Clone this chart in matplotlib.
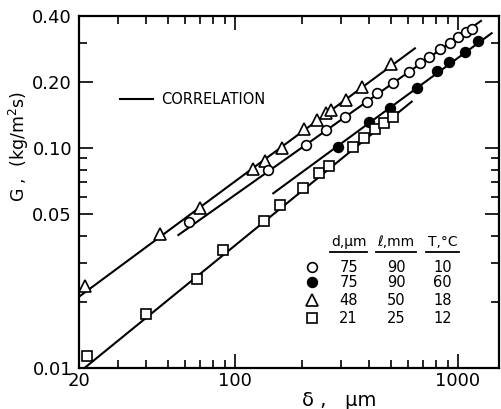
import matplotlib
matplotlib.use('Agg')
import matplotlib.pyplot as plt
from matplotlib.ticker import FixedLocator, NullFormatter

plt.rcParams['font.family'] = ['DejaVu Sans']

# data (delta in um, G in kg/m2s)
tri_x = [21.3, 46.2, 69.8, 120, 136.5, 163.5, 204, 233, 257, 271, 315, 370, 504]
tri_y = [0.0237, 0.0407, 0.0535, 0.0809, 0.0871, 0.1008, 0.1218, 0.1338, 0.144, 0.1494, 0.165, 0.190, 0.242]

open_x = [62.6, 141.5, 209, 257, 312, 393, 433, 513, 602, 674, 745, 832, 919, 1004, 1084, 1154]
open_y = [0.0464, 0.0796, 0.1035, 0.1212, 0.1393, 0.163, 0.1776, 0.1977, 0.2225, 0.2437, 0.2596,
          0.2826, 0.3006, 0.321, 0.3366, 0.348]

fill_x = [291, 399, 494, 656, 804, 912, 1077, 1237]
fill_y = [0.1017, 0.1313, 0.1518, 0.189, 0.2248, 0.2463, 0.2744, 0.3063]

sq_x = [21.8, 40.0, 67.4, 88.1, 135, 159, 203, 238, 265, 339, 380, 425, 467, 512]
sq_y = [0.0113, 0.0176, 0.0254, 0.0344, 0.0469, 0.0552, 0.0659, 0.0772, 0.0831, 0.1014, 0.1114,
        0.1224, 0.1304, 0.1388]

# correlation lines (end points)
tri_line_x = [20, 642]
tri_line_y = [0.0211, 0.285]
open_line_x = [55.8, 1270]
open_line_y = [0.0403, 0.38]
fill_line_x = [148.7, 1418]
fill_line_y = [0.0624, 0.334]
sq_line_x = [20.8, 621]
sq_line_y = [0.00986, 0.163]

# legend table
d_um = ['75', '75', '48', '21']
l_mm = ['90', '90', '50', '25']
t_c = ['10', '60', '18', '12']

fig = plt.figure(figsize=(5.01, 4.09), dpi=100)
ax = fig.add_axes([0.1577, 0.1002, 0.8383, 0.8607])

lw = 1.5
for lx, ly in [(tri_line_x, tri_line_y), (open_line_x, open_line_y),
               (fill_line_x, fill_line_y), (sq_line_x, sq_line_y)]:
    ax.plot(lx, ly, color='black', lw=lw, zorder=2)

ax.plot(tri_x, tri_y, ls='none', marker='^', ms=8.5, mfc='white', mec='black', mew=1.2, zorder=3)
ax.plot(open_x, open_y, ls='none', marker='o', ms=7, mfc='white', mec='black', mew=1.2, zorder=3)
ax.plot(fill_x, fill_y, ls='none', marker='o', ms=7, mfc='black', mec='black', mew=1.2, zorder=3)
ax.plot(sq_x, sq_y, ls='none', marker='s', ms=7, mfc='white', mec='black', mew=1.2, zorder=3)

ax.set_xscale('log')
ax.set_yscale('log')
ax.set_xlim(20, 1530)
ax.set_ylim(0.01, 0.40)

ax.xaxis.set_major_locator(FixedLocator([20, 100, 1000]))
ax.set_xticklabels(['20', '100', '1000'])
ax.xaxis.set_minor_locator(FixedLocator([30, 40, 50, 60, 70, 80, 90, 200, 300, 400, 500,
                                         600, 700, 800, 900]))
ax.xaxis.set_minor_formatter(NullFormatter())
ax.yaxis.set_major_locator(FixedLocator([0.01, 0.05, 0.10, 0.20, 0.40]))
ax.set_yticklabels(['0.01', '0.05', '0.10', '0.20', '0.40'])
ax.yaxis.set_minor_locator(FixedLocator([0.02, 0.03, 0.04, 0.06, 0.07, 0.08, 0.09, 0.3]))
ax.yaxis.set_minor_formatter(NullFormatter())

ax.tick_params(which='both', direction='in', top=True, right=True, width=1.2)
ax.tick_params(which='major', length=10, labelsize=13, pad=5)
ax.tick_params(which='minor', length=6)
ax.tick_params(axis='x', which='major', pad=3)
for s in ax.spines.values():
    s.set_linewidth(1.6)

ax.set_xlabel('δ ,   µm', fontsize=14)
ax.xaxis.set_label_coords(0.62, -0.065)
ax.set_ylabel('G ,  (kg/m$^2$s)', fontsize=12.5)
ax.yaxis.set_label_coords(-0.115, 0.63)

# correlation key
ax.plot([0.098, 0.176], [0.763, 0.763], color='black', lw=lw, transform=ax.transAxes)
ax.text(0.195, 0.763, 'CORRELATION', transform=ax.transAxes, fontsize=10.5, va='center')

# parameter table
cols = [0.642, 0.755, 0.866]
heads = ['d,µm', 'ℓ,mm', 'T,°C']
spans = [(0.598, 0.686), (0.707, 0.802), (0.826, 0.905)]
for cx, h, (a, b) in zip(cols, heads, spans):
    ax.text(cx, 0.359, h, transform=ax.transAxes, fontsize=10, ha='center', va='center')
    ax.plot([a, b], [0.330, 0.330], color='black', lw=1.3, transform=ax.transAxes)

row_y = [0.286, 0.244, 0.193, 0.141]
keys = [('o', 'white'), ('o', 'black'), ('^', 'white'), ('s', 'white')]
for ry, (m, fc), d, l, t in zip(row_y, keys, d_um, l_mm, t_c):
    ax.plot([0.554], [ry], marker=m, ms=7 if m != '^' else 8, mfc=fc, mec='black', mew=1.2,
            ls='none', transform=ax.transAxes)
    for cx, v in zip(cols, [d, l, t]):
        ax.text(cx, ry, v, transform=ax.transAxes, fontsize=10.5, ha='center', va='center')

fig.savefig('out.png', dpi=100)
